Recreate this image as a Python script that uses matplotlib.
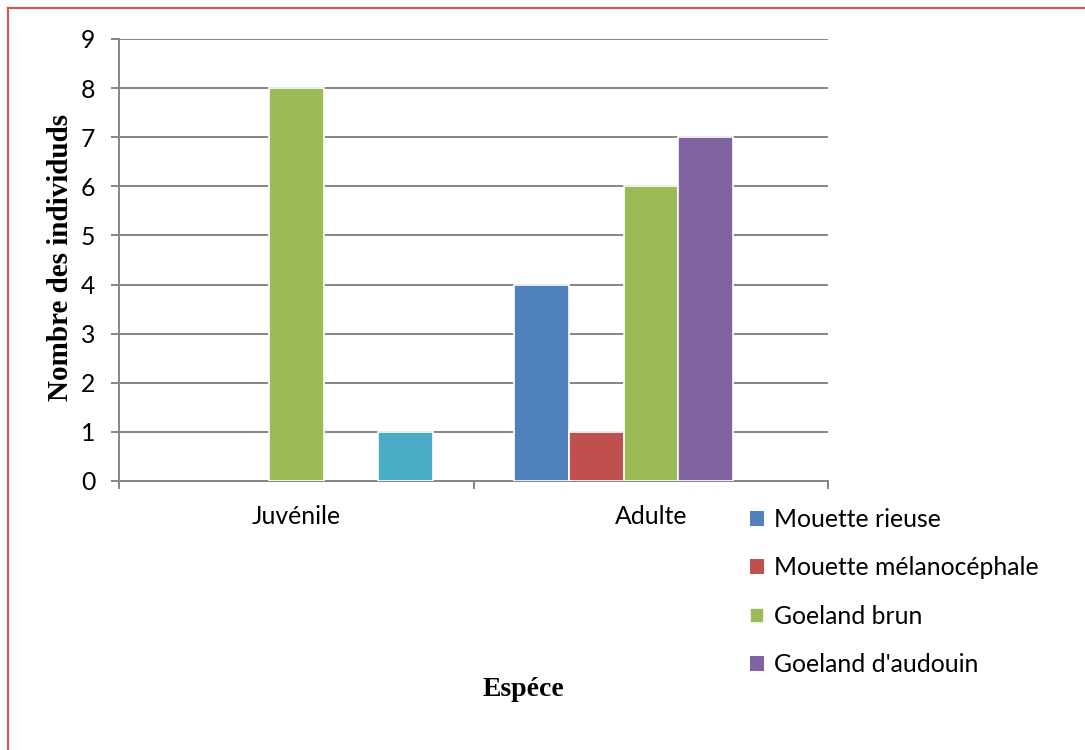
import numpy as np
import matplotlib
matplotlib.use("Agg")
import matplotlib.pyplot as plt
from matplotlib.lines import Line2D

categories = ["Juvénile", "Adulte"]
series_names = ["Mouette rieuse", "Mouette mélanocéphale", "Goeland brun", "Goeland d'audouin", "_nolegend_"]
mouette_rieuse = [0, 4]
mouette_melanocephale = [0, 1]
goeland_brun = [8, 6]
goeland_audouin = [0, 7]
autre = [1, 0]
colors = ["#4F81BD", "#C0504D", "#9BBB59", "#8064A2", "#4BACC6"]

values = [mouette_rieuse, mouette_melanocephale, goeland_brun, goeland_audouin, autre]

fig = plt.figure(figsize=(10.85, 7.5), dpi=100)
ax = fig.add_axes([0.1097, 0.3587, 0.6535, 0.5893])

x = np.arange(len(categories))
n = len(values)
w = 0.77 / n
for i, (vals, name, c) in enumerate(zip(values, series_names, colors)):
	lw = [1.2 if v > 0 else 0 for v in vals]
	ax.bar(x + (i - (n - 1) / 2) * w, vals, w, color=c, edgecolor="white",
		linewidth=lw, label=name, zorder=3)

gray = "#868686"
ax.set_xlim(-0.5, 1.5)
ax.set_ylim(0, 9)
ax.set_yticks(range(0, 10))
ax.yaxis.grid(True, color=gray, linewidth=1.4, zorder=0)
ax.set_axisbelow(True)

ax.set_xticks(x)
ax.set_xticklabels(categories)
ax.set_xticks([-0.5, 0.5, 1.5], minor=True)
ax.tick_params(axis="x", which="major", length=0, pad=17)
ax.tick_params(axis="x", which="minor", length=6, width=1.4, color=gray)
ax.tick_params(axis="y", length=6, width=1.4, color=gray, pad=11)

for s in ["top", "right"]:
	ax.spines[s].set_visible(False)
for s in ["left", "bottom"]:
	ax.spines[s].set_color(gray)
	ax.spines[s].set_linewidth(1.4)

for lab in ax.get_xticklabels() + ax.get_yticklabels():
	lab.set_fontfamily("Lato")
	lab.set_fontsize(17.8)

ax.set_ylabel("Nombre des individuds", fontfamily="Liberation Serif",
	fontweight="bold", fontsize=21)
ax.yaxis.set_label_coords(-0.063, 0.505)
fig.text(0.482, 0.081, "Espéce", fontfamily="Liberation Serif",
	fontweight="bold", fontsize=20, ha="center", va="center")

leg = fig.legend(loc="upper left", bbox_to_anchor=(0.6825, 0.336), frameon=False,
	prop={"family": "Lato", "size": 17.8}, handlelength=0.55, handleheight=0.55,
	handletextpad=0.4, labelspacing=1.03, borderaxespad=0)

# cadre rouge autour de la figure
fig.add_artist(Line2D([8 / 1085, 1.0], [1 - 7.5 / 750, 1 - 7.5 / 750],
	transform=fig.transFigure, color="#D05A57", linewidth=1.6))
fig.add_artist(Line2D([8 / 1085, 8 / 1085], [0.0, 1 - 7.5 / 750],
	transform=fig.transFigure, color="#D05A57", linewidth=1.6))

fig.savefig("out.png", dpi=100)
